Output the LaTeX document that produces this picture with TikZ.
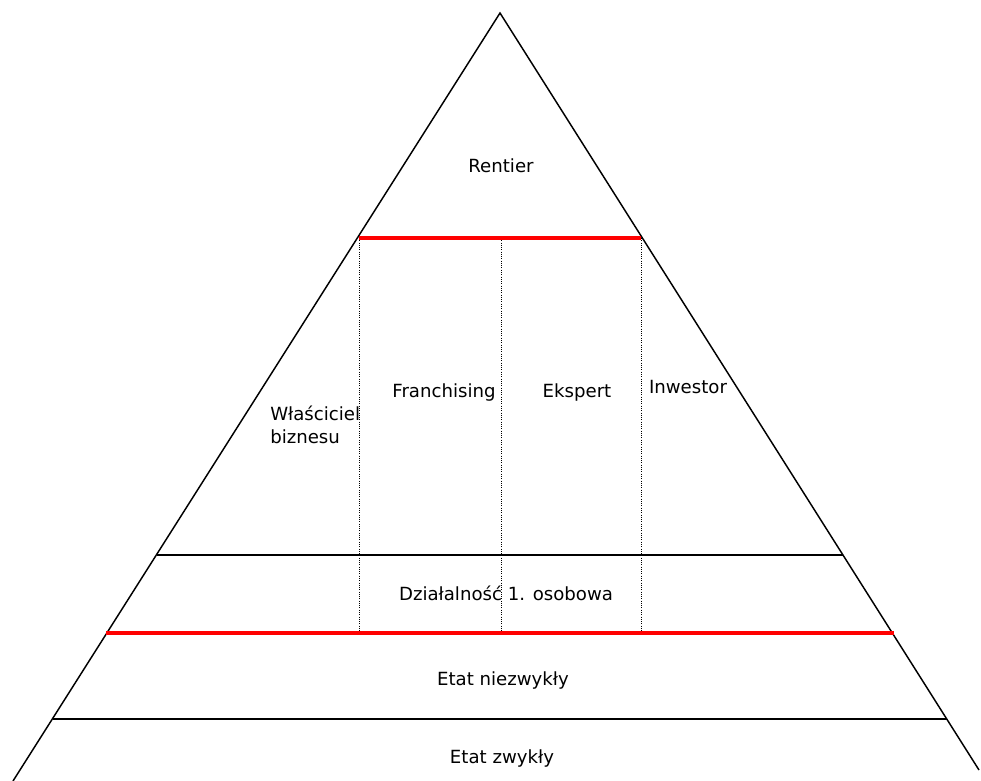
\documentclass[tikz,border=0pt]{standalone}
\usepackage{fontspec}
\setmainfont{DejaVu Sans}
\begin{document}
\begin{tikzpicture}[x=0.75pt,y=-0.75pt]
  \useasboundingbox (0,0) rectangle (981,781);

  \tikzstyle{txt}=[font=\fontsize{13.6}{17.3}\selectfont, inner sep=0pt]
  \tikzstyle{tier}=[line width=1.1pt]
  \tikzstyle{barrier}=[red, line width=3pt]
  \tikzstyle{divider}=[densely dotted, line width=0.7pt]

  % Dreieck
  \coordinate (top) at (500,13);
  \coordinate (left) at (13,781);
  \coordinate (right) at (979,770);
  \draw[tier] (left) -- (top) -- (right);

  % Stufen
  \coordinate (a1) at (157,555);
  \coordinate (a2) at (843,555);
  \coordinate (b1) at (53,719);
  \coordinate (b2) at (947,719);
  \draw[tier] (a1) -- (a2);
  \draw[tier] (b1) -- (b2);

  % Grenzen
  \coordinate (u1) at (359,238);
  \coordinate (u2) at (501,238);
  \coordinate (u3) at (641,238);
  \coordinate (d1) at (359,633);
  \coordinate (d2) at (501,633);
  \coordinate (d3) at (641,633);
  \coordinate (e1) at (106,633);
  \coordinate (e2) at (894,633);
  \draw[divider] (u1) -- (d1);
  \draw[divider] (u2) -- (d2);
  \draw[divider] (u3) -- (d3);
  \draw[barrier] (u1) -- (u3);
  \draw[barrier] (e1) -- (e2);

  \node[txt] (rentier) at (501,166) {Rentier};
  \node[txt] (franchising) at (444,392) {Franchising};
  \node[txt] (ekspert) at (577,392) {Ekspert};
  \node[txt] (inwestor) at (688,387) {Inwestor};
  \node[txt, align=left, anchor=west] (wlasciciel) at (270,425) {Właściciel\\biznesu};
  \node[txt] (jednoosobowa) at (506,593) {Działalność 1. osobowa};
  \node[txt] (niezwykly) at (503,680) {Etat niezwykły};
  \node[txt] (zwykly) at (502,758) {Etat zwykły};
\end{tikzpicture}
\end{document}
